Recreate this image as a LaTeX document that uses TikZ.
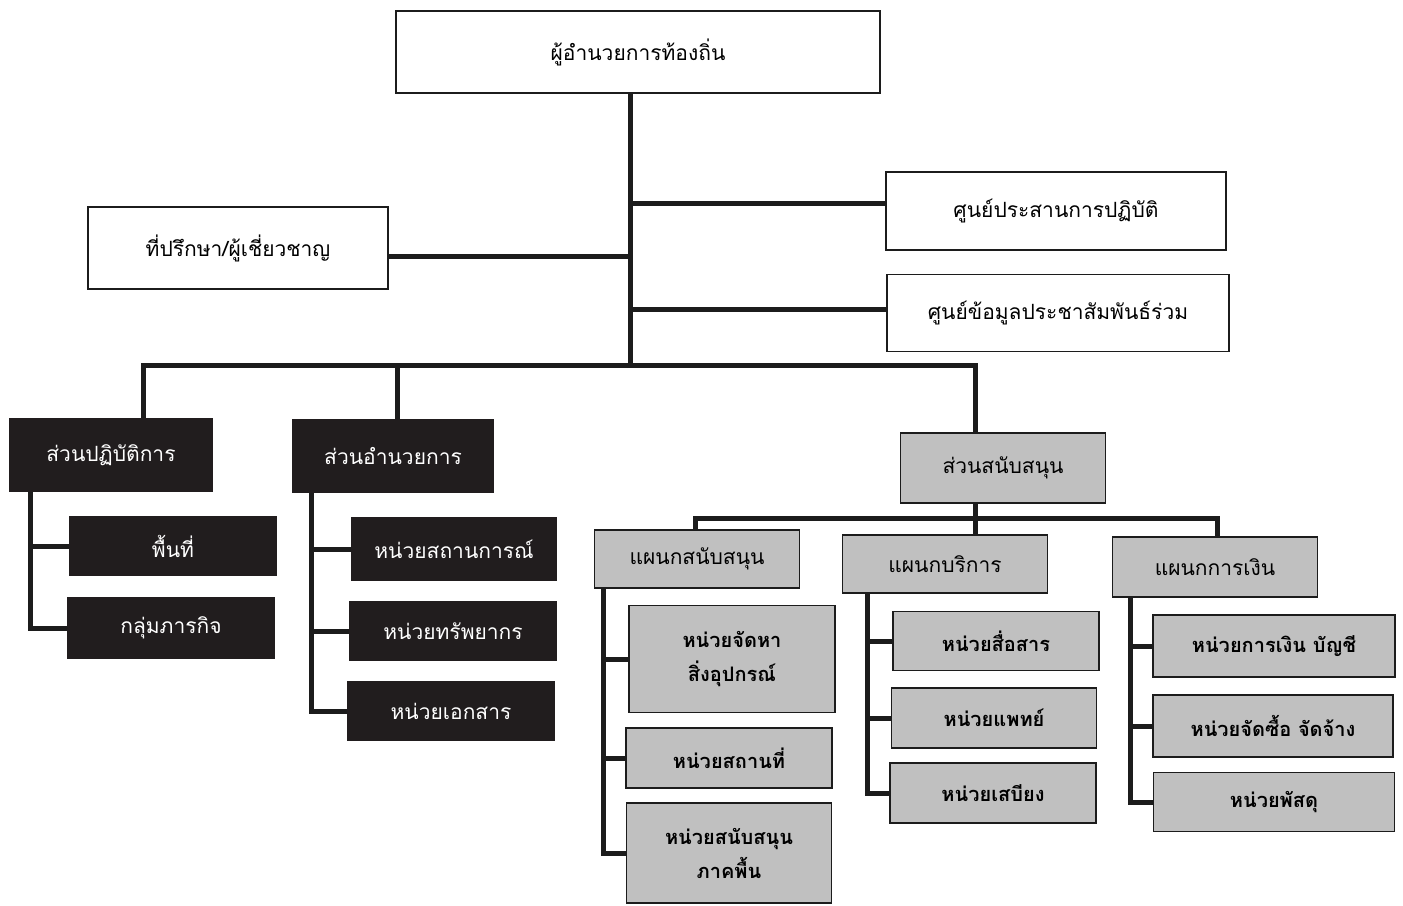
\documentclass[tikz,border=0pt]{standalone}
\usepackage{fontspec}
\newfontfamily\thaifont[Script=Thai]{Loma}
\usepackage{xcolor}
\definecolor{DarkBox}{RGB}{33,29,30}
\definecolor{GrayBox}{RGB}{192,192,192}
\definecolor{Link}{RGB}{28,28,28}

\begin{document}
\begin{tikzpicture}[x=1pt,y=-1pt,
  every node/.style={font=\thaifont\fontsize{21}{34}\selectfont, align=center, inner sep=0pt},
  whitebox/.style={draw=Link, line width=1.6pt, fill=white},
  darkbox/.style={draw=DarkBox, line width=1.6pt, fill=DarkBox, text=white},
  graybox/.style={draw=Link, line width=1.8pt, fill=GrayBox},
  unitbox/.style={graybox, font=\thaifont\bfseries\fontsize{20}{34}\selectfont},
  link/.style={draw=Link, line width=5pt}]
\useasboundingbox (0,0) rectangle (1403,905);

% top level
\node[whitebox, minimum width=484, minimum height=82] (director) at (638,52) {ผู้อำนวยการท้องถิ่น};
\node[whitebox, minimum width=300, minimum height=82] (advisor) at (238,248) {ที่ปรึกษา/ผู้เชี่ยวชาญ};
\node[whitebox, minimum width=340, minimum height=78] (opscenter) at (1056,211) {ศูนย์ประสานการปฏิบัติ};
\node[whitebox, minimum width=342, minimum height=77] (prcenter) at (1058,313) {ศูนย์ข้อมูลประชาสัมพันธ์ร่วม};

\coordinate (hub) at (630,365);
\draw[link] (director.south -| hub) -- (hub);
\draw[link] ([yshift=-8pt]advisor.east) -- ([yshift=-8pt]advisor.east -| hub);
\draw[link] ([yshift=8pt]opscenter.west) -- ([yshift=8pt]opscenter.west -| hub);
\draw[link] ([yshift=4pt]prcenter.west) -- ([yshift=4pt]prcenter.west -| hub);

% divisions
\node[darkbox, minimum width=202, minimum height=73] (opsdiv) at (111,455) {ส่วนปฏิบัติการ};
\node[darkbox, minimum width=200, minimum height=72] (admindiv) at (393,456) {ส่วนอำนวยการ};
\node[graybox, minimum width=205, minimum height=70] (supportdiv) at (1003,468) {ส่วนสนับสนุน};

\coordinate (busL) at (143,365);
\coordinate (busM) at (397,365);
\coordinate (busR) at (975,365);
\draw[link] (busL |- opsdiv.north) -- (busL) -- (busR) -- (busR |- supportdiv.north);
\draw[link] (busM) -- (busM |- admindiv.north);

% operations
\coordinate (opsbus) at (30,0);
\node[darkbox, minimum width=206, minimum height=58] (area) at (173,546) {พื้นที่};
\node[darkbox, minimum width=207, minimum height=60] (mission) at (171,628) {กลุ่มภารกิจ};
\draw[link] (opsdiv.south -| opsbus) |- (mission.west);
\draw[link] (area.west) -- (area.west -| opsbus);

% administration
\coordinate (adminbus) at (311,0);
\node[darkbox, minimum width=205, minimum height=62] (situ) at (454,549) {หน่วยสถานการณ์};
\node[darkbox, minimum width=206, minimum height=58] (resource) at (453,631) {หน่วยทรัพยากร};
\node[darkbox, minimum width=206, minimum height=59] (document) at (451,711) {หน่วยเอกสาร};
\draw[link] (admindiv.south -| adminbus) |- (document.west);
\foreach \n in {situ,resource}
  \draw[link] (\n.west) -- (\n.west -| adminbus);

% support
\coordinate (sbus) at (975,518);
\coordinate (sbusL) at (695,518);
\coordinate (sbusR) at (1217,518);
\node[graybox, minimum width=205, minimum height=58] (supplydep) at (697,559) {แผนกสนับสนุน};
\node[graybox, minimum width=205, minimum height=58] (servicedep) at (945,564) {แผนกบริการ};
\node[graybox, minimum width=205, minimum height=60] (financedep) at (1215,567) {แผนกการเงิน};
\draw[link] (supportdiv.south -| sbus) -- (sbus |- servicedep.north);
\draw[link] (sbusL |- supplydep.north) -- (sbusL) -- (sbusR) -- (sbusR |- financedep.north);

\coordinate (supplybus) at (603,0);
\node[unitbox, minimum width=206, minimum height=107] (equip) at (732,659) {หน่วยจัดหา\\สิ่งอุปกรณ์};
\node[unitbox, minimum width=206, minimum height=60] (venue) at (729,758) {หน่วยสถานที่};
\node[unitbox, minimum width=205, minimum height=100] (ground) at (729,853) {หน่วยสนับสนุน\\ภาคพื้น};
\draw[link] (supplydep.south -| supplybus) |- (ground.west);
\foreach \n in {equip,venue}
  \draw[link] (\n.west) -- (\n.west -| supplybus);

\coordinate (servicebus) at (867,0);
\node[unitbox, minimum width=206, minimum height=59] (comms) at (996,641) {หน่วยสื่อสาร};
\node[unitbox, minimum width=205, minimum height=60] (medic) at (994,718) {หน่วยแพทย์};
\node[unitbox, minimum width=206, minimum height=60] (ration) at (993,793) {หน่วยเสบียง};
\draw[link] (servicedep.south -| servicebus) |- (ration.west);
\foreach \n in {comms,medic}
  \draw[link] (\n.west) -- (\n.west -| servicebus);

\coordinate (financebus) at (1130,0);
\node[unitbox, minimum width=242, minimum height=62] (account) at (1274,646) {หน่วยการเงิน บัญชี};
\node[unitbox, minimum width=240, minimum height=62] (procure) at (1273,726) {หน่วยจัดซื้อ จัดจ้าง};
\node[unitbox, minimum width=241, minimum height=59] (parcel) at (1274,802) {หน่วยพัสดุ};
\draw[link] (financedep.south -| financebus) |- (parcel.west);
\foreach \n in {account,procure}
  \draw[link] (\n.west) -- (\n.west -| financebus);
\end{tikzpicture}
\end{document}
